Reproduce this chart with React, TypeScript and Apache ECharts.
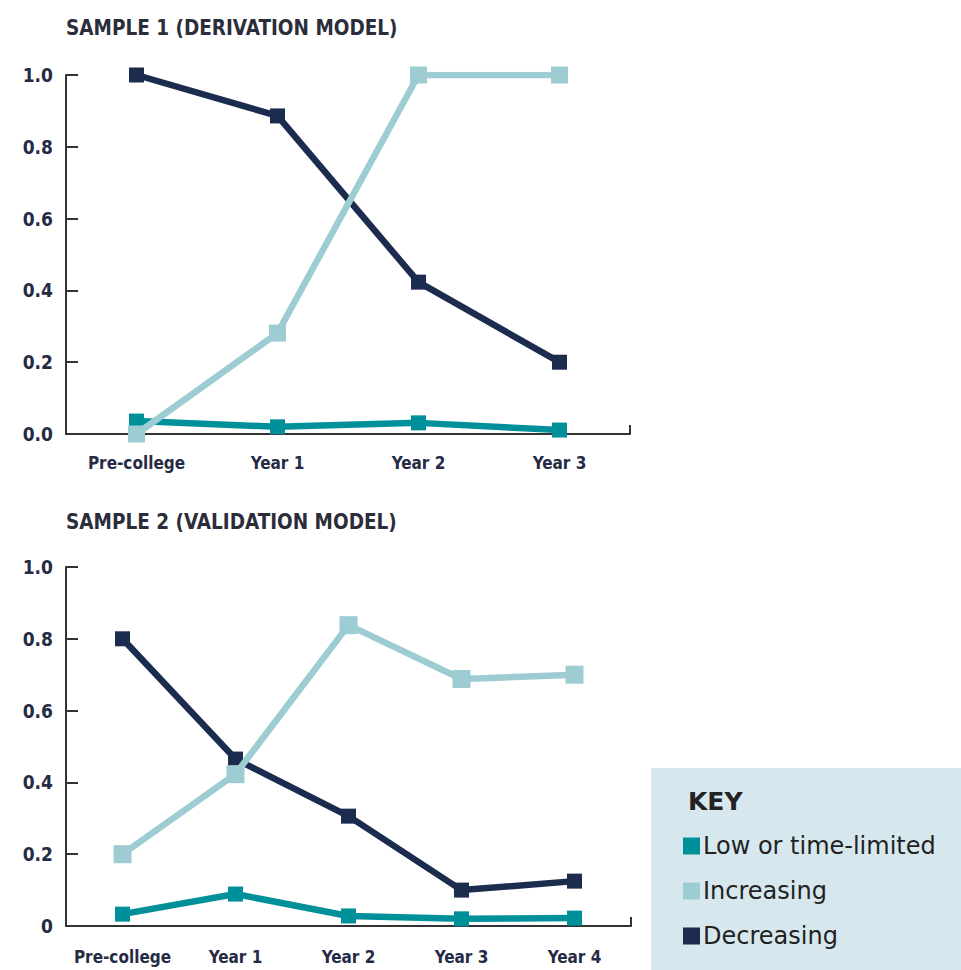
import React, { useEffect, useRef } from "react";
import * as echarts from "echarts";

const categories1 = ["Pre-college", "Year 1", "Year 2", "Year 3"];
const categories2 = ["Pre-college", "Year 1", "Year 2", "Year 3", "Year 4"];

const low1 = [0.036, 0.02, 0.031, 0.011];
const increasing1 = [0.0, 0.281, 1.0, 1.0];
const decreasing1 = [1.0, 0.886, 0.423, 0.2];

const low2 = [0.033, 0.089, 0.028, 0.02, 0.022];
const increasing2 = [0.2, 0.423, 0.838, 0.688, 0.7];
const decreasing2 = [0.8, 0.465, 0.306, 0.1, 0.125];

const yTicks1 = ["0.0", "0.2", "0.4", "0.6", "0.8", "1.0"];
const yTicks2 = ["0", "0.2", "0.4", "0.6", "0.8", "1.0"];

const seriesNames = ["Low or time-limited", "Increasing", "Decreasing"];
const titles = ["SAMPLE 1 (DERIVATION MODEL)", "SAMPLE 2 (VALIDATION MODEL)"];

const COLORS = ["#00909a", "#9dcdd3", "#1b2c4f"];
const AXIS = "#333333";
const LABEL = "#262b45";
const COND = "'DejaVu Sans Condensed', 'DejaVu Sans', sans-serif";

export default function App() {
  const ref = useRef<HTMLDivElement>(null);
  useEffect(() => {
    document.body.style.margin = "0";
    const chart = echarts.init(ref.current!, null, { renderer: "svg" });

    const xAxisCommon = (cats: string[], gridIndex: number, margin: number) => ({
      type: "category",
      gridIndex,
      data: cats,
      boundaryGap: true,
      axisLine: { show: true, lineStyle: { color: AXIS, width: 2 } },
      axisTick: {
        show: true,
        inside: true,
        length: 9,
        interval: (i: number) => i === 0,
        lineStyle: { color: AXIS, width: 2 },
      },
      axisLabel: {
        margin,
        color: LABEL,
        fontFamily: COND,
        fontWeight: "bold",
        fontSize: 17,
        interval: 0,
      },
      splitLine: { show: false },
    });

    const yAxisCommon = (labels: string[], gridIndex: number) => ({
      type: "value",
      gridIndex,
      min: 0,
      max: 1,
      interval: 0.2,
      axisLine: { show: true, lineStyle: { color: AXIS, width: 2 } },
      axisTick: { show: true, inside: true, length: 12, lineStyle: { color: AXIS, width: 2 } },
      axisLabel: {
        margin: 13,
        color: LABEL,
        fontFamily: COND,
        fontWeight: "bold",
        fontSize: 19,
        formatter: (v: number) => labels[Math.round(v / 0.2)],
      },
      splitLine: { show: false },
    });

    const makeSeries = (name: string, data: number[], idx: number, colorIdx: number, size: number) => ({
      name,
      type: "line",
      xAxisIndex: idx,
      yAxisIndex: idx,
      data,
      symbol: "rect",
      symbolSize: size,
      showSymbol: true,
      lineStyle: { color: COLORS[colorIdx], width: 6.5 },
      itemStyle: { color: COLORS[colorIdx] },
      z: colorIdx === 1 ? 5 : colorIdx === 2 ? 4 : 3,
    });

    const order = [0, 2, 1];
    const series: any[] = [];
    const d1 = [low1, increasing1, decreasing1];
    const d2 = [low2, increasing2, decreasing2];
    order.forEach((k) => series.push(makeSeries(seriesNames[k], d1[k], 0, k, k === 1 ? 17 : 15)));
    order.forEach((k) => series.push(makeSeries(seriesNames[k], d2[k], 1, k, k === 1 ? 18 : 15)));

    chart.setOption({
      animation: false,
      backgroundColor: "#ffffff",
      title: [
        {
          text: titles[0],
          left: 61,
          top: 12,
          textStyle: { fontFamily: COND, fontWeight: "bold", fontSize: 20.5, color: "#2b2d3a" },
        },
        {
          text: titles[1],
          left: 61,
          top: 506,
          textStyle: { fontFamily: COND, fontWeight: "bold", fontSize: 20.5, color: "#2b2d3a" },
        },
      ],
      graphic: [
        {
          type: "rect",
          left: 651,
          top: 768,
          shape: { width: 310, height: 202 },
          style: { fill: "#d6e8ee" },
          z: 0,
        },
        {
          type: "text",
          left: 688,
          top: 789,
          style: {
            text: "KEY",
            fontFamily: "'DejaVu Sans', sans-serif",
            fontWeight: "bold",
            fontSize: 25,
            fill: "#222222",
          },
          z: 1,
        },
      ],
      legend: {
        data: seriesNames,
        orient: "vertical",
        left: 678,
        top: 829,
        icon: "rect",
        itemWidth: 17,
        itemHeight: 17,
        itemGap: 21,
        textStyle: { fontFamily: "'DejaVu Sans', sans-serif", fontSize: 24, color: "#222222", padding: [0, 0, 0, -2] },
        selectedMode: false,
      },
      grid: [
        { left: 66, top: 75, width: 564, height: 359 },
        { left: 66, top: 567, width: 565, height: 359 },
      ],
      xAxis: [xAxisCommon(categories1, 0, 20), xAxisCommon(categories2, 1, 22)],
      yAxis: [yAxisCommon(yTicks1, 0), yAxisCommon(yTicks2, 1)],
      series,
    });
    return () => chart.dispose();
  }, []);
  return (
    <div
      ref={ref}
      style={{ position: "absolute", left: 0, top: 0, width: 961, height: 970 }}
    />
  );
}
